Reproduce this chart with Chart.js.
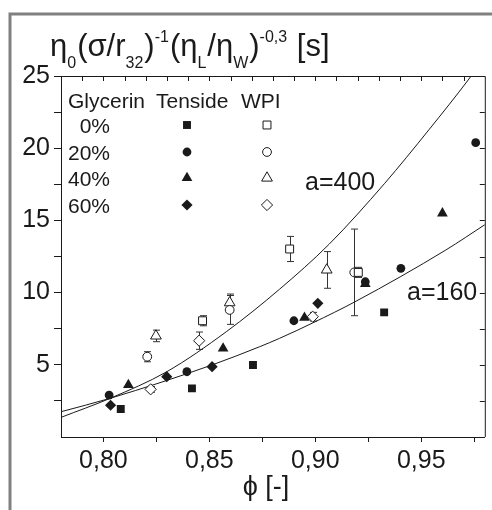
<!DOCTYPE html>
<html>
<head>
<meta charset="utf-8">
<script src="https://cdn.jsdelivr.net/npm/chart.js@4.4.1/dist/chart.umd.min.js"></script>
<style>
  html, body { margin: 0; padding: 0; background: #fff; }
  #wrap { width: 492px; height: 510px; }
</style>
</head>
<body>
<div id="wrap"><canvas id="phiChart" width="492" height="510"></canvas></div>
<script>
// axis ticks
const xTicks = [0.8, 0.825, 0.85, 0.875, 0.9, 0.925, 0.95, 0.975];
const xTopTicks = [0.79, 0.80, 0.81, 0.82, 0.83, 0.84, 0.85, 0.86, 0.87, 0.88, 0.89, 0.90, 0.91, 0.92, 0.93, 0.94, 0.95, 0.96, 0.97];
const yTicks = [2.5, 5, 7.5, 10, 12.5, 15, 17.5, 20, 22.5, 25];

// Tenside (filled symbols), by glycerin content
const tens0X = [0.8082, 0.8418, 0.8706, 0.9325];
const tens0Y = [1.94, 3.37, 4.99, 8.63];
const tens20X = [0.8027, 0.8394, 0.8899, 0.9236, 0.9404, 0.9757];
const tens20Y = [2.9, 4.52, 8.05, 10.75, 11.68, 20.38];
const tens40X = [0.8118, 0.8565, 0.8949, 0.9236, 0.9600];
const tens40Y = [3.6, 6.14, 8.26, 10.6, 15.49];
const tens60X = [0.8034, 0.8299, 0.8513, 0.9012];
const tens60Y = [2.2, 4.18, 4.87, 9.26];

// WPI (open symbols) with error bars
const wpi0X = [0.8468, 0.8879, 0.9203];
const wpi0Y = [8.05, 13.02, 11.4];
const wpi0Err = [0.35, 0.87, 0.35];
const wpi20X = [0.8207, 0.8596, 0.9184];
const wpi20Y = [5.56, 8.8, 11.4];
const wpi20Err = [0.35, 1.0, 3.0];
const wpi40X = [0.8248, 0.8596, 0.9054];
const wpi40Y = [7.0, 9.3, 11.57];
const wpi40Err = [0.4, 0.6, 1.27];
const wpi60X = [0.8223, 0.8452, 0.8988];
const wpi60Y = [3.3, 6.67, 8.33];
const wpi60Err = [0.2, 0.6, 0.3];

// model curves
const a400X = [0.78, 0.8032, 0.8299, 0.858, 0.8831, 0.9066, 0.9326, 0.9536, 0.9725, 0.9765];
const a400Y = [1.36, 2.68, 4.52, 7.29, 10.23, 13.36, 17.54, 21.27, 24.79, 25.6];
const a160X = [0.78, 0.8032, 0.8513, 0.8737, 0.8831, 0.8988, 0.9192, 0.9616, 0.98];
const a160Y = [1.75, 2.68, 4.99, 6.25, 6.83, 7.9, 9.4, 12.95, 14.7];

const legendRows = ['0%', '20%', '40%', '60%'];
const legendHead = ['Glycerin', 'Tenside', 'WPI'];

const FONT = "'Liberation Sans', Arial, 'DejaVu Sans', sans-serif";
const INK = '#1a1a1a';

const pts = (xs, ys) => xs.map((x, i) => ({ x: x, y: ys[i] }));

function filled(label, xs, ys, style, r) {
    return {
        label, data: pts(xs, ys), pointStyle: style, pointRadius: r, pointHoverRadius: r,
        backgroundColor: INK, borderColor: INK, borderWidth: 0, showLine: false
    };
}
function open(label, xs, ys, errs, style, r) {
    return {
        label, data: pts(xs, ys), errors: errs, pointStyle: style, pointRadius: r, pointHoverRadius: r,
        backgroundColor: '#fff', borderColor: INK, borderWidth: 1, showLine: false
    };
}
function curve(label, xs, ys) {
    return {
        label, data: pts(xs, ys), showLine: true, pointRadius: 0, borderColor: INK,
        borderWidth: 1, cubicInterpolationMode: 'monotone', fill: false
    };
}

// symbol style for each legend row: [shape, radius]
const shapes = [['rect', 5.6], ['circle', 4.4], ['triangle', 6.2], ['rectRot', 5.6]];

function drawMark(ctx, shape, r, x, y, hollow) {
    ctx.save();
    ctx.fillStyle = hollow ? '#fff' : INK;
    ctx.strokeStyle = INK;
    ctx.lineWidth = 1;
    Chart.helpers.drawPoint(ctx, { pointStyle: shape, radius: r, rotation: 0, borderWidth: hollow ? 1 : 0 }, x, y);
    ctx.restore();
}

const framePlugin = {
    id: 'frame',
    beforeDraw(chart) {
        const ctx = chart.ctx;
        ctx.save();
        ctx.fillStyle = '#fff';
        ctx.fillRect(0, 0, chart.width, chart.height);
        ctx.strokeStyle = '#808080';
        ctx.lineWidth = 3;
        ctx.beginPath();
        ctx.moveTo(10, chart.height);
        ctx.lineTo(10, 14);
        ctx.lineTo(chart.width, 14);
        ctx.stroke();
        ctx.restore();
    }
};

const errorBarPlugin = {
    id: 'errorBars',
    beforeDatasetsDraw(chart) {
        const ctx = chart.ctx, xs = chart.scales.x, ys = chart.scales.y;
        ctx.save();
        ctx.strokeStyle = '#333';
        ctx.lineWidth = 1;
        chart.data.datasets.forEach(ds => {
            if (!ds.errors) return;
            ds.data.forEach((p, i) => {
                const px = Math.round(xs.getPixelForValue(p.x)) + 0.5;
                const top = ys.getPixelForValue(p.y + ds.errors[i]);
                const bot = ys.getPixelForValue(p.y - ds.errors[i]);
                ctx.beginPath();
                ctx.moveTo(px, top); ctx.lineTo(px, bot);
                ctx.moveTo(px - 3.5, top); ctx.lineTo(px + 3.5, top);
                ctx.moveTo(px - 3.5, bot); ctx.lineTo(px + 3.5, bot);
                ctx.stroke();
            });
        });
        ctx.restore();
    }
};

const decorPlugin = {
    id: 'decor',
    afterDraw(chart) {
        const ctx = chart.ctx, a = chart.chartArea, xs = chart.scales.x, ys = chart.scales.y;
        ctx.save();
        // top and right border with inward ticks
        ctx.strokeStyle = INK;
        ctx.lineWidth = 1;
        ctx.beginPath();
        ctx.moveTo(a.left, a.top + 0.5); ctx.lineTo(a.right + 0.5, a.top + 0.5); ctx.lineTo(a.right + 0.5, a.bottom);
        xTopTicks.forEach(v => {
            const px = Math.round(xs.getPixelForValue(v)) + 0.5;
            ctx.moveTo(px, a.top); ctx.lineTo(px, a.top + 5);
        });
        yTicks.forEach(v => {
            const py = Math.round(ys.getPixelForValue(v)) + 0.5;
            ctx.moveTo(a.right, py); ctx.lineTo(a.right - 5, py);
        });
        ctx.stroke();

        // y title with sub/superscripts
        const parts = [['η', 'm'], ['0', 'sub'], ['(σ/r', 'm'], ['32', 'sub'], [')', 'm'], ['-1', 'sup'],
            ['(η', 'm'], ['L', 'sub'], ['/η', 'm'], ['W', 'sub'], [')', 'm'], ['-0,3', 'sup'], [' [s]', 'm']];
        let x = 50;
        const base = 56;
        ctx.fillStyle = INK;
        ctx.textBaseline = 'alphabetic';
        ctx.textAlign = 'left';
        parts.forEach(([t, k]) => {
            ctx.font = (k === 'm' ? '31px ' : '16px ') + FONT;
            const dy = k === 'sub' ? 12 : (k === 'sup' ? -14 : 0);
            ctx.fillText(t, x, base + dy);
            x += ctx.measureText(t).width + (k === 'm' ? 0 : 1);
        });

        // x title
        ctx.font = '27px ' + FONT;
        ctx.textAlign = 'center';
        ctx.fillText('ϕ [-]', 266, 495);

        // legend
        ctx.font = '21px ' + FONT;
        ctx.textAlign = 'left';
        [68, 156, 241].forEach((hx, i) => ctx.fillText(legendHead[i], hx, 108));
        const rowY = [125, 152, 178, 205];
        ctx.textAlign = 'right';
        legendRows.forEach((t, i) => {
            ctx.fillStyle = INK;
            ctx.fillText(t, 110, rowY[i] + 7.5);
            drawMark(ctx, shapes[i][0], shapes[i][1], 187, rowY[i], false);
            drawMark(ctx, shapes[i][0], shapes[i][1], 267, rowY[i], true);
        });

        // curve labels
        ctx.fillStyle = INK;
        ctx.font = '25px ' + FONT;
        ctx.textAlign = 'left';
        ctx.fillText('a=400', 305, 190);
        ctx.fillText('a=160', 407, 300);
        ctx.restore();
    }
};

const ctx = document.getElementById('phiChart').getContext('2d');
const phiChart = new Chart(ctx, {
    type: 'scatter',
    data: {
        datasets: [
            filled('0% Tenside', tens0X, tens0Y, 'rect', 5.6),
            filled('20% Tenside', tens20X, tens20Y, 'circle', 4.4),
            filled('40% Tenside', tens40X, tens40Y, 'triangle', 6.2),
            filled('60% Tenside', tens60X, tens60Y, 'rectRot', 5.6),
            open('0% WPI', wpi0X, wpi0Y, wpi0Err, 'rect', 5.6),
            open('20% WPI', wpi20X, wpi20Y, wpi20Err, 'circle', 4.4),
            open('40% WPI', wpi40X, wpi40Y, wpi40Err, 'triangle', 6.2),
            open('60% WPI', wpi60X, wpi60Y, wpi60Err, 'rectRot', 5.6),
            curve('a=400', a400X, a400Y),
            curve('a=160', a160X, a160Y)
        ]
    },
    options: {
        responsive: false,
        animation: false,
        devicePixelRatio: 1,
        layout: { padding: { top: 76, right: 6, left: 0, bottom: 0 } },
        plugins: { legend: { display: false }, tooltip: { enabled: false } },
        scales: {
            x: {
                type: 'linear', min: 0.78, max: 0.98,
                afterBuildTicks: s => { s.ticks = xTicks.map(v => ({ value: v })); },
                afterFit: s => { s.height = 73; },
                ticks: {
                    color: INK, padding: 4, maxRotation: 0, autoSkip: false,
                    font: { family: FONT, size: 25 },
                    callback: v => Math.abs(v * 20 - Math.round(v * 20)) < 1e-6 ? v.toFixed(2).replace('.', ',') : ''
                },
                grid: { drawOnChartArea: false, tickLength: 5, color: INK },
                border: { color: INK, width: 1 }
            },
            y: {
                type: 'linear', min: 0, max: 25,
                afterBuildTicks: s => { s.ticks = yTicks.map(v => ({ value: v })); },
                afterFit: s => { s.width = 61; },
                ticks: {
                    color: INK, padding: 4, autoSkip: false,
                    font: { family: FONT, size: 25 },
                    callback: v => (v % 5 === 0 ? String(v) : '')
                },
                grid: { drawOnChartArea: false, tickLength: 7, color: INK },
                border: { color: INK, width: 1 }
            }
        }
    },
    plugins: [framePlugin, errorBarPlugin, decorPlugin]
});
</script>
</body>
</html>
